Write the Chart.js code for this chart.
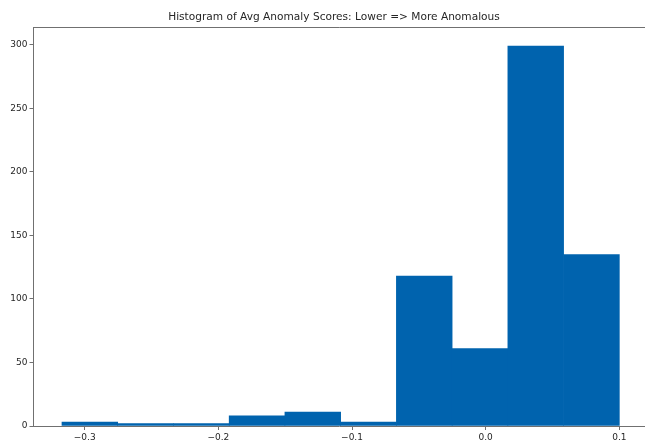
<!DOCTYPE html>
<html>
<head>
<meta charset="utf-8">
<script src="https://cdn.jsdelivr.net/npm/chart.js@4"></script>
<style>
  html, body { margin: 0; padding: 0; background: #fff; }
  #wrap { width: 645px; height: 443px; position: relative; }
</style>
</head>
<body>
<div id="wrap"><canvas id="c" width="645" height="443"></canvas></div>
<script>
// Histogram bins (left edges) and counts
const binStart = -0.317;
const binWidth = 0.0417;
const binCounts = [3, 2, 2, 8, 11, 3, 118, 61, 299, 135];
const xTicks = [-0.3, -0.2, -0.1, 0.0, 0.1];
const yTicks = [0, 50, 100, 150, 200, 250, 300];
const titleText = 'Histogram of Avg Anomaly Scores: Lower => More Anomalous';

const points = binCounts.map((c, i) => ({ x: binStart + binWidth * (i + 0.5), y: c }));

const FONT = 'DejaVu Sans';
const TEXT = '#262626';
const SPINE = '#707070';

const frame = {
  id: 'frame',
  afterDraw(chart) {
    const { ctx, chartArea } = chart;
    ctx.save();
    ctx.strokeStyle = SPINE;
    ctx.lineWidth = 1;
    ctx.beginPath();
    ctx.moveTo(chartArea.left, chartArea.top + 0.5);
    ctx.lineTo(chartArea.right, chartArea.top + 0.5);
    ctx.stroke();
    ctx.fillStyle = TEXT;
    ctx.font = '10.6px "' + FONT + '"';
    ctx.textAlign = 'center';
    ctx.textBaseline = 'middle';
    ctx.fillText(titleText, 334, 17);
    ctx.restore();
  }
};

new Chart(document.getElementById('c'), {
  type: 'bar',
  data: {
    datasets: [{
      data: points,
      backgroundColor: '#0063ae',
      borderWidth: 0,
      barPercentage: 1,
      categoryPercentage: 1,
      grouped: false
    }]
  },
  options: {
    responsive: false,
    animation: false,
    devicePixelRatio: 1,
    layout: { padding: { top: 27, right: 0, left: 0, bottom: 0 } },
    plugins: { legend: { display: false }, tooltip: { enabled: false }, title: { display: false } },
    scales: {
      x: {
        type: 'linear',
        offset: false,
        min: -0.3383,
        max: 0.1192,
        afterBuildTicks: s => { s.ticks = xTicks.map(v => ({ value: v })); },
        afterFit: s => { s.height = 17; },
        grid: { display: true, offset: false, drawOnChartArea: false, drawTicks: true, tickLength: 4, tickColor: SPINE },
        border: { display: true, color: SPINE, width: 1 },
        ticks: {
          color: TEXT, font: { family: FONT, size: 9 }, padding: 2, maxRotation: 0,
          callback: v => (v < 0 ? '\u2212' : '') + Math.abs(v).toFixed(1)
        }
      },
      y: {
        type: 'linear',
        min: 0,
        max: 314,
        afterBuildTicks: s => { s.ticks = yTicks.map(v => ({ value: v })); },
        afterFit: s => { s.width = 33.5; },
        grid: { display: true, drawOnChartArea: false, drawTicks: true, tickLength: 4, tickColor: SPINE },
        border: { display: true, color: SPINE, width: 1 },
        ticks: { color: TEXT, font: { family: FONT, size: 9 }, padding: 2 }
      }
    }
  },
  plugins: [frame]
});
</script>
</body>
</html>
